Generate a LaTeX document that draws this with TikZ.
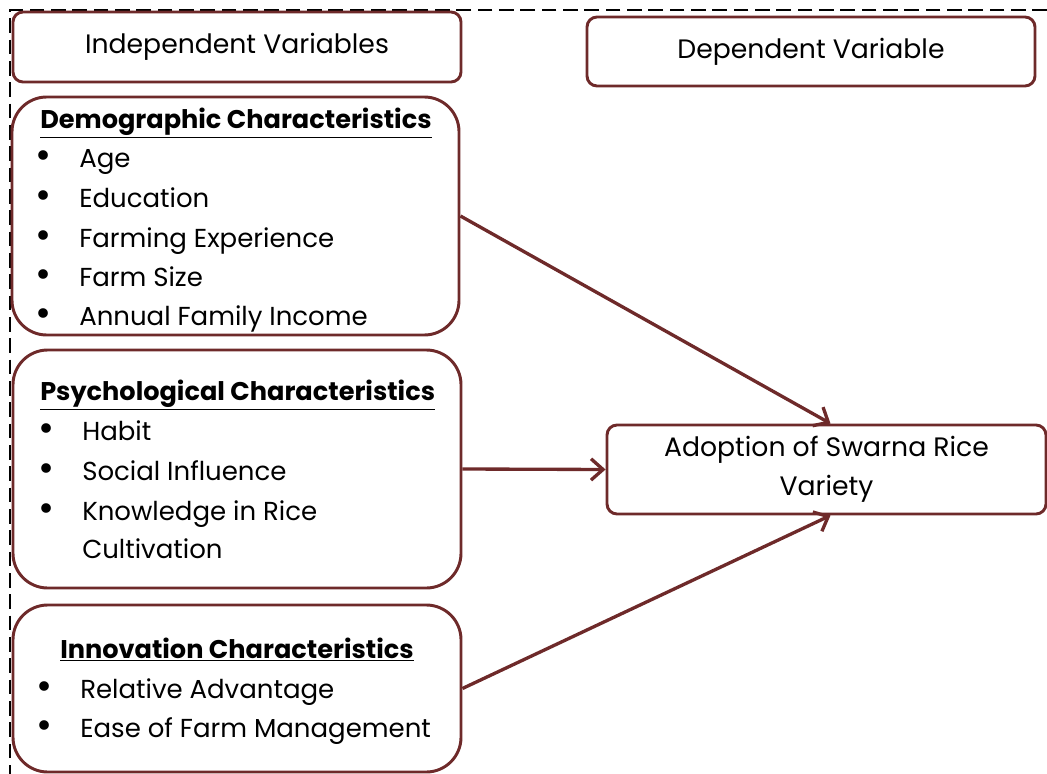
\documentclass[tikz,border=0pt]{standalone}
\usepackage{fontspec}
\setmainfont{Poppins}
\usepackage{graphicx}
\usepackage{tikz}
\usetikzlibrary{arrows.meta}
\definecolor{boxred}{RGB}{110,42,42}
\newcommand{\bul}{\makebox[33pt][l]{\raisebox{-1.2pt}{\scalebox{1.5}{\textbullet}}}}

\begin{document}
\begin{tikzpicture}[x=0.75pt,y=-0.75pt,
    frame/.style={draw=boxred,line width=2.2pt,rounded corners=7.5pt,inner sep=0pt},
    group/.style={frame,rounded corners=26pt},
    arr/.style={draw=boxred,line width=2.5pt,-{Straight Barb[length=9pt,width=16pt]}},
    title/.style={font=\fontsize{20}{29}\selectfont,align=center},
    item/.style={anchor=base west,inner sep=0pt,font=\fontsize{19.5}{22}\selectfont},
    head/.style={item,font=\fontsize{19.2}{22}\selectfont\bfseries}]
    \useasboundingbox (0,0) rectangle (1047,774);

    % Dashed frame round the variables
    \draw[line width=1.5pt,dash pattern=on 11pt off 5pt] (1047,10) -- (10,10) -- (10,774);

    % Place the title boxes
    \node[frame,title,minimum width=336pt,minimum height=52.5pt] (indep) at (237,47) {Independent Variables};
    \node[frame,title,minimum width=336pt,minimum height=51.75pt] (dep) at (811,51.5) {Dependent Variable};

    % Place the group boxes
    \node[group,minimum width=335.25pt,minimum height=178.5pt] (demo) at (235.5,216) {};
    \node[group,minimum width=336pt,minimum height=178.5pt] (psych) at (237,469) {};
    \node[group,minimum width=336pt,minimum height=125.25pt] (innov) at (237,688.5) {};
    \node[frame,title,minimum width=329.25pt,minimum height=66.75pt] (adopt) at (826.5,469.5) {Adoption of Swarna Rice\\Variety};

    % Demographic characteristics
    \node[head] (demohead) at (40,128) {\underline{Demographic Characteristics}};
    \node[item] (age) at (35,167) {\bul Age};
    \node[item] (edu) at (35,207) {\bul Education};
    \node[item] (exp) at (35,247) {\bul Farming Experience};
    \node[item] (size) at (35,286) {\bul Farm Size};
    \node[item] (income) at (35,325) {\bul Annual Family Income};

    % Psychological characteristics
    \node[head] (psychhead) at (40,400) {\underline{Psychological Characteristics}};
    \node[item] (habit) at (38,440) {\bul Habit};
    \node[item] (social) at (38,480) {\bul Social Influence};
    \node[item] (know) at (38,520) {\bul Knowledge in Rice};
    \node[item] (cult) at (82,558) {Cultivation};

    % Innovation characteristics
    \node[head] (innovhead) at (60,658) {\underline{Innovation Characteristics}};
    \node[item] (adv) at (36,698) {\bul Relative Advantage};
    \node[item] (ease) at (36,737) {\bul Ease of Farm Management};

    % The arrows!
    \draw[arr] (demo.east) -- ([xshift=3pt]adopt.north);
    \draw[arr] (psych.east) -- (adopt.west);
    \draw[arr] (innov.east) -- ([xshift=3pt]adopt.south);
\end{tikzpicture}
\end{document}
